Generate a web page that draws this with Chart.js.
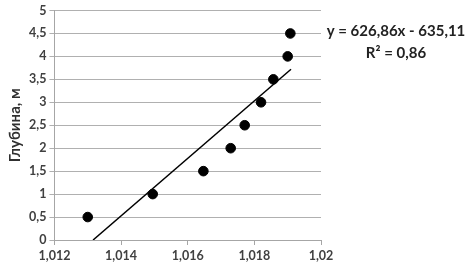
<!DOCTYPE html>
<html>
<head>
<meta charset="utf-8">
<script src="https://cdn.jsdelivr.net/npm/chart.js@4"></script>
<style>
  body { margin: 0; background: #fff; }
</style>
</head>
<body>
<canvas id="chart" width="473" height="271"></canvas>
<script>
// === Datos ===
const density = [1.013, 1.01495, 1.01647, 1.01729, 1.01771, 1.0182, 1.01857, 1.019, 1.01908];
const depth = [0.5, 1, 1.5, 2, 2.5, 3, 3.5, 4, 4.5];
const trendX = [1.01316, 1.0191];
const trendY = [0, 3.72];
const equation = "y = 626,86x - 635,11";
const rSquared = "R² = 0,86";

const fuente = "Lato, 'Open Sans', sans-serif";
const gris = "#404040";

function coma(v) {
  return parseFloat(v.toFixed(3)).toString().replace(".", ",");
}

// === Texto de la ecuación ===
const ecuacion = {
  id: "ecuacion",
  afterDraw(chart) {
    const ctx = chart.ctx;
    ctx.save();
    ctx.fillStyle = "#222";
    ctx.font = "bold 15px " + fuente;
    ctx.textAlign = "center";
    ctx.textBaseline = "middle";
    ctx.fillText(equation, 396, 31);
    ctx.fillText(rSquared, 396, 53);
    ctx.restore();
  }
};

new Chart(document.getElementById("chart"), {
  type: "scatter",
  data: {
    datasets: [
      {
        label: "Глубина",
        data: density.map((x, i) => ({ x: x, y: depth[i] })),
        backgroundColor: "#000",
        borderColor: "#000",
        pointRadius: 4.8
      },
      {
        label: "Тренд",
        type: "line",
        data: trendX.map((x, i) => ({ x: x, y: trendY[i] })),
        borderColor: "#000",
        borderWidth: 1.5,
        pointRadius: 0,
        fill: false
      }
    ]
  },
  plugins: [ecuacion],
  options: {
    responsive: false,
    animation: false,
    plugins: {
      legend: { display: false },
      tooltip: { enabled: false }
    },
    layout: {
      padding: { top: 3, right: 152, left: 6, bottom: 5 }
    },
    scales: {
      x: {
        type: "linear",
        min: 1.012,
        max: 1.02,
        ticks: {
          stepSize: 0.002,
          color: gris,
          font: { family: fuente, size: 12.5, weight: "bold" },
          callback: v => coma(v),
          maxRotation: 0
        },
        grid: {
          drawOnChartArea: false,
          color: "#a6a6a6",
          tickLength: 5
        },
        border: { color: "#a6a6a6" }
      },
      y: {
        min: 0,
        max: 5,
        ticks: {
          stepSize: 0.5,
          color: gris,
          font: { family: fuente, size: 12.5, weight: "bold" },
          callback: v => coma(v)
        },
        grid: {
          color: "#b0b0b0",
          tickLength: 5
        },
        border: { color: "#a6a6a6" },
        title: {
          display: true,
          text: "Глубина, м",
          color: "#303030",
          font: { family: fuente, size: 15, weight: "bold" },
          padding: { top: 0, bottom: 2 }
        }
      }
    }
  }
});
</script>
</body>
</html>
